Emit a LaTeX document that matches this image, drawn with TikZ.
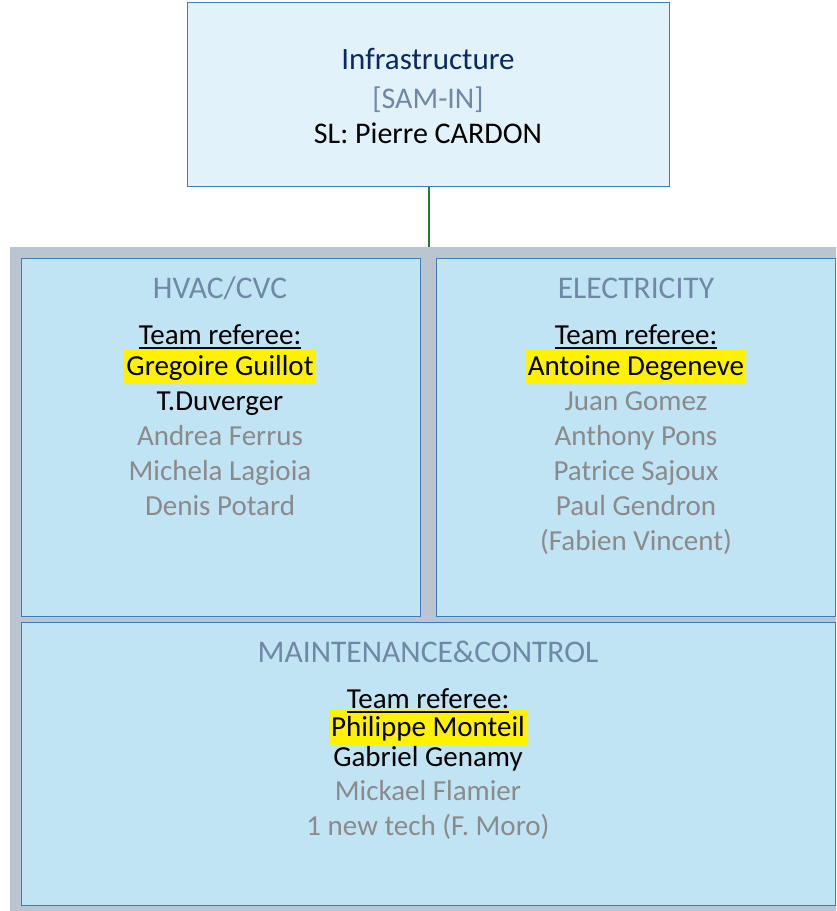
\documentclass[tikz,border=0pt]{standalone}
\usepackage{fontspec}
\setmainfont{Carlito}
\usepackage{xcolor}
\definecolor{unitline}{HTML}{3E7CB8}
\definecolor{topfill}{HTML}{E1F2FA}
\definecolor{teamfill}{HTML}{C1E4F5}
\definecolor{panelgray}{HTML}{B9C5D1}
\definecolor{headgray}{HTML}{6F88A6}
\definecolor{namegray}{HTML}{8A8A8A}
\definecolor{navy}{HTML}{0B2A63}
\definecolor{linkgreen}{HTML}{237A35}
\tikzset{
    unit/.style={draw=unitline, line width=1.2pt, inner sep=0pt, anchor=north west},
    topunit/.style={unit, fill=topfill},
    team/.style={unit, fill=teamfill},
    panel/.style={fill=panelgray, inner sep=0pt, anchor=north west},
    link/.style={draw=linkgreen, line width=2pt},
    % text styles
    txt/.style={font=\fontsize{29}{35}\selectfont, anchor=base, inner sep=0pt},
    heading/.style={txt, font=\fontsize{31.5}{38}\selectfont, text=headgray},
    member/.style={txt, text=black},
    former/.style={txt, text=namegray},
    lead/.style={txt, fill=yellow, text height=26pt, text depth=9pt, inner xsep=2pt},
    rule/.style={line width=1.6pt}
}
\begin{document}
\begin{tikzpicture}[x=1pt, y=-1pt]
    \useasboundingbox (0,0) rectangle (836,911);

    % Head unit
    \node[topunit, minimum width=482pt, minimum height=184pt] (infra) at (187,2) {};
    \node[txt, font=\fontsize{31}{37}\selectfont, text=navy] (infratitle) at (428,69) {Infrastructure};
    \node[heading, font=\fontsize{30}{36}\selectfont] (infracode) at (428,108) {[SAM-IN]};
    \node[member, font=\fontsize{30}{36}\selectfont] (infralead) at (428,143) {SL: Pierre CARDON};

    % Grey panel holding the teams
    \node[panel, minimum width=826pt, minimum height=664pt] (teams) at (10,247) {};
    \draw[link] (infra.south) -- (infra.south |- teams.north);

    % HVAC team
    \node[team, minimum width=399pt, minimum height=358pt] (hvac) at (21,258) {};
    \node[heading] (hvactitle) at (220,298) {HVAC/CVC};
    \node[member] (hvacref) at (220,344) {Team referee:};
    \node[lead] (hvaclead) at (220,375) {Gregoire Guillot};
    \draw[rule] ([yshift=-4pt]hvacref.base west) -- ([yshift=-4pt]hvacref.base east);
    \node[member] (hvacm1) at (220,410) {T.Duverger};
    \node[former] (hvacm2) at (220,445) {Andrea Ferrus};
    \node[former] (hvacm3) at (220,480) {Michela Lagioia};
    \node[former] (hvacm4) at (220,515) {Denis Potard};

    % Electricity team
    \node[team, minimum width=399pt, minimum height=358pt] (elec) at (436,258) {};
    \node[heading] (electitle) at (636,298) {ELECTRICITY};
    \node[member] (elecref) at (636,344) {Team referee:};
    \node[lead] (eleclead) at (636,375) {Antoine Degeneve};
    \draw[rule] ([yshift=-4pt]elecref.base west) -- ([yshift=-4pt]elecref.base east);
    \node[former] (elecm1) at (636,410) {Juan Gomez};
    \node[former] (elecm2) at (636,445) {Anthony Pons};
    \node[former] (elecm3) at (636,480) {Patrice Sajoux};
    \node[former] (elecm4) at (636,515) {Paul Gendron};
    \node[former] (elecm5) at (636,550) {(Fabien Vincent)};

    % Maintenance team
    \node[team, minimum width=814pt, minimum height=283pt] (maint) at (21,622) {};
    \node[heading] (mainttitle) at (428,662) {MAINTENANCE\&CONTROL};
    \node[member] (maintref) at (428,708) {Team referee:};
    \node[lead] (maintlead) at (428,736) {Philippe Monteil};
    \draw[rule] ([yshift=-4pt]maintref.base west) -- ([yshift=-4pt]maintref.base east);
    \node[member] (maintm1) at (428,766) {Gabriel Genamy};
    \node[former] (maintm2) at (428,800) {Mickael Flamier};
    \node[former] (maintm3) at (428,835) {1 new tech (F. Moro)};
\end{tikzpicture}
\end{document}
